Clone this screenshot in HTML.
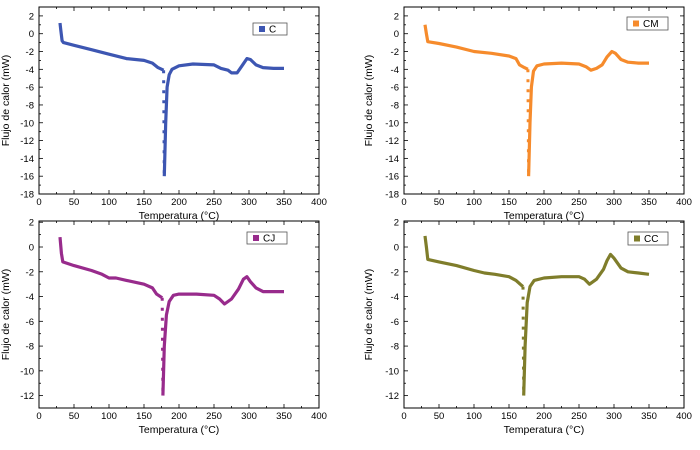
<!DOCTYPE html>
<html><head><meta charset="utf-8"><style>
body{margin:0;background:#fff;}
svg{display:block;font-family:"Liberation Sans",Arial,sans-serif;}
</style></head><body>
<svg id="fig" width="700" height="450" viewBox="0 0 700 450"></svg>
<script>
const xTicks=[0,50,100,150,200,250,300,350,400];
const yTicksTop=[2,0,-2,-4,-6,-8,-10,-12,-14,-16,-18];
const yTicksBot=[2,0,-2,-4,-6,-8,-10,-12];
const seriesNames=["C","CM","CJ","CC"];
const seriesColors=["#3d56b2","#f68b2c","#982b8c","#7f7d2b"];
const cBefore=[[30,1.2],[31,0.5],[33,-0.8],[35,-1.0],[50,-1.3],[75,-1.8],[100,-2.3],[125,-2.8],[150,-3.0],[162,-3.3],[170,-3.8],[178,-4.1]];
const cDrop=[[178,-4.1],[179,-16]];
const cAfter=[[179,-16],[181,-10],[183,-6],[186,-4.6],[190,-4.0],[200,-3.6],[220,-3.4],[250,-3.5],[260,-3.9],[270,-4.1],[275,-4.4],[283,-4.4],[290,-3.6],[297,-2.8],[302,-2.9],[310,-3.5],[320,-3.8],[335,-3.9],[350,-3.9]];
const cmBefore=[[30,1.0],[32,0],[34,-0.9],[50,-1.1],[75,-1.5],[100,-2.0],[125,-2.2],[150,-2.5],[160,-2.8],[165,-3.5],[172,-3.8],[177,-4.0]];
const cmDrop=[[177,-4.0],[178,-16]];
const cmAfter=[[178,-16],[180,-10],[182,-6],[185,-4.2],[190,-3.6],[200,-3.4],[225,-3.3],[250,-3.4],[260,-3.7],[267,-4.1],[275,-3.9],[283,-3.5],[290,-2.6],[297,-2.0],[302,-2.2],[310,-2.9],[320,-3.2],[335,-3.3],[350,-3.3]];
const cjBefore=[[30,0.8],[32,-0.5],[34,-1.2],[50,-1.5],[75,-1.9],[90,-2.2],[100,-2.5],[110,-2.5],[125,-2.7],[150,-3.0],[162,-3.3],[168,-3.8],[176,-4.1]];
const cjDrop=[[176,-4.1],[177,-12]];
const cjAfter=[[177,-12],[179,-8],[182,-5.5],[186,-4.4],[192,-3.9],[200,-3.8],[225,-3.8],[250,-3.9],[258,-4.2],[265,-4.6],[275,-4.2],[285,-3.4],[292,-2.6],[297,-2.4],[302,-2.8],[310,-3.3],[320,-3.6],[350,-3.6]];
const ccBefore=[[30,0.9],[32,0],[34,-1.0],[50,-1.2],[75,-1.5],[100,-1.9],[115,-2.1],[130,-2.2],[150,-2.4],[160,-2.7],[166,-3.0],[170,-3.2]];
const ccDrop=[[170,-3.2],[171,-12]];
const ccAfter=[[171,-12],[173,-8],[176,-4.5],[180,-3.2],[186,-2.7],[200,-2.5],[225,-2.4],[250,-2.4],[258,-2.6],[265,-3.0],[275,-2.6],[285,-1.8],[290,-1.1],[295,-0.6],[300,-0.9],[310,-1.7],[320,-2.0],[335,-2.1],[350,-2.2]];

const NS="http://www.w3.org/2000/svg";
const fig=document.getElementById('fig');
function mk(tag,attrs,parent){const e=document.createElementNS(NS,tag);for(const k in attrs)e.setAttribute(k,attrs[k]);parent.appendChild(e);return e;}

const panels=[
 {x0:39,x1:319,y0:7,y1:194,ymin:-18,ymax:3,ticks:yTicksTop,ytx:9,data:[cBefore,cDrop,cAfter],leg:[253,23,34,12]},
 {x0:404,x1:684,y0:7,y1:194,ymin:-18,ymax:3,ticks:yTicksTop,ytx:372,data:[cmBefore,cmDrop,cmAfter],leg:[627,17,41,13]},
 {x0:39,x1:319,y0:221,y1:408,ymin:-13,ymax:2.1,ticks:yTicksBot,ytx:9,data:[cjBefore,cjDrop,cjAfter],leg:[247,232,40,12]},
 {x0:404,x1:684,y0:221,y1:408,ymin:-13,ymax:2.1,ticks:yTicksBot,ytx:372,data:[ccBefore,ccDrop,ccAfter],leg:[628,232,40,13]}
];
panels.forEach((p,i)=>{
 const g=mk('g',{},fig);
 
 
 const sx=v=>p.x0+(v-0)/400*(p.x1-p.x0);
 const sy=v=>p.y1-(v-p.ymin)/(p.ymax-p.ymin)*(p.y1-p.y0);
 // ticks
 for(let v=0;v<=400;v+=25){
  const len=v%50===0?4:2;const X=sx(v);
  mk('line',{x1:X,x2:X,y1:p.y1,y2:p.y1-len,stroke:'#000','stroke-width':0.8},g);
  mk('line',{x1:X,x2:X,y1:p.y0,y2:p.y0+len,stroke:'#000','stroke-width':0.8},g);
 }
 for(let v=Math.ceil(p.ymin);v<=Math.floor(p.ymax);v++){
  const len=v%2===0?4:2;const Y=sy(v);
  mk('line',{x1:p.x0,x2:p.x0+len,y1:Y,y2:Y,stroke:'#000','stroke-width':0.8},g);
  mk('line',{x1:p.x1,x2:p.x1-len,y1:Y,y2:Y,stroke:'#000','stroke-width':0.8},g);
 }
 const fr=mk('rect',{x:p.x0,y:p.y0,width:p.x1-p.x0,height:p.y1-p.y0,fill:'none',stroke:'#000','stroke-width':1},g);
 
 
 xTicks.forEach(v=>{const t=mk('text',{x:sx(v),y:p.y1+11,'font-size':9.5,'text-anchor':'middle'},g);t.textContent=v;
  
  });
 p.ticks.forEach(v=>{const t=mk('text',{x:p.x0-5,y:sy(v)+3.5,'font-size':9.5,'text-anchor':'end'},g);t.textContent=v;
  
  });
 const xt=mk('text',{x:(p.x0+p.x1)/2,y:p.y1+25,'font-size':10.5,'text-anchor':'middle'},g);xt.textContent='Temperatura (°C)';
 
 
 const cy=(p.y0+p.y1)/2;
 const yt=mk('text',{x:p.ytx,y:cy,'font-size':10.5,'text-anchor':'middle',transform:`rotate(-90 ${p.ytx} ${cy})`},g);yt.textContent='Flujo de calor (mW)';
 
 
 const col=seriesColors[i];
 const pts=a=>a.map(d=>sx(d[0]).toFixed(1)+','+sy(d[1]).toFixed(1)).join(' ');
 const l1=mk('polyline',{points:pts(p.data[0]),fill:'none',stroke:col,'stroke-width':3.2,'stroke-linejoin':'round'},g);
 
 
 const l2=mk('polyline',{points:pts(p.data[1]),fill:'none',stroke:col,'stroke-width':3,'stroke-dasharray':'3,7'},g);
 
 
 const l3=mk('polyline',{points:pts(p.data[2]),fill:'none',stroke:col,'stroke-width':3.2,'stroke-linejoin':'round'},g);
 
 
 const [lx,ly,lw,lh]=p.leg;
 const lg=mk('g',{},g);
 
 
 mk('rect',{x:lx,y:ly,width:lw,height:lh,fill:'#fff',stroke:'#555','stroke-width':0.8},lg);
 mk('rect',{x:lx+6,y:ly+lh/2-3,width:6,height:6,fill:col},lg);
 const lt=mk('text',{x:lx+16,y:ly+lh/2+3.5,'font-size':10},lg);lt.textContent=seriesNames[i];
});
</script>
</body></html>
